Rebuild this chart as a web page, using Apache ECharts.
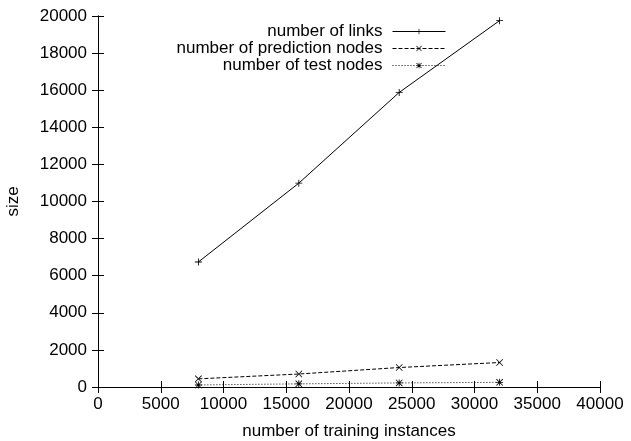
<!DOCTYPE html>
<html>
<head>
<meta charset="utf-8">
<script src="https://cdn.jsdelivr.net/npm/echarts@6/dist/echarts.min.js"></script>
<style>
  html, body { margin: 0; padding: 0; background: #fff; }
  #chart { width: 631px; height: 441px; }
</style>
</head>
<body>
<div id="chart"></div>
<script>
// training instances (x)
const instances = [8000, 16000, 24000, 32000];
const links = [6740, 10990, 15880, 19750];
const predictionNodes = [440, 700, 1050, 1320];
const testNodes = [110, 170, 220, 250];

// gnuplot-ish point markers
const plusPath = "path://M4.4,0h1.2v10h-1.2z M0,4.4h10v1.2h-10z";
const crossPath = "path://M0.8,0L10,9.2L9.2,10L0,0.8z M9.2,0L10,0.8L0.8,10L0,9.2z";
const starPath = plusPath + " " + crossPath.replace("path://", "");

const font = "Liberation Sans, Arial, sans-serif";
const fs = 17;

function pairs(ys) {
  return instances.map((x, i) => [x, ys[i]]);
}

function lineSeries(name, ys, symbol, type) {
  return {
    name: name,
    type: "line",
    data: pairs(ys),
    symbol: symbol,
    symbolSize: 7,
    showSymbol: true,
    itemStyle: { color: "#000" },
    lineStyle: { color: "#000", width: 1, type: type },
    emphasis: { disabled: true },
    animation: false,
  };
}

const plain = (v) => String(v);

const chart = echarts.init(document.getElementById("chart"));
chart.setOption({
  animation: false,
  textStyle: { fontFamily: font },
  grid: { left: 98, right: 31, top: 16, bottom: 54, outerBoundsMode: "none", containLabel: false },
  legend: {
    orient: "vertical",
    right: 185,
    top: 23,
    padding: 0,
    align: "right",
    itemWidth: 53,
    itemHeight: 7,
    itemGap: 0,
    lineStyle: { width: 1 },
    textStyle: { color: "#000", fontSize: fs, fontFamily: font, padding: [0, 5, 0, 0] },
  },
  xAxis: [
    {
      type: "value",
      min: 0,
      max: 40000,
      interval: 5000,
      name: "number of training instances",
      nameLocation: "middle",
      nameGap: 36,
      nameTextStyle: { color: "#000", fontSize: fs, fontFamily: font },
      axisLine: { lineStyle: { color: "#000", width: 1 } },
      axisTick: { inside: true, length: 6, lineStyle: { color: "#000" } },
      axisLabel: { color: "#000", fontSize: fs, margin: 9, fontFamily: font, formatter: plain },
      splitLine: { show: false },
    },
    {
      type: "value",
      position: "top",
      min: 0,
      max: 40000,
      interval: 5000,
      axisLine: { show: true, lineStyle: { color: "#000", width: 1 } },
      axisTick: { inside: true, length: 6, lineStyle: { color: "#000" } },
      axisLabel: { show: false },
      splitLine: { show: false },
    },
  ],
  yAxis: [
    {
      type: "value",
      min: 0,
      max: 20000,
      interval: 2000,
      name: "size",
      nameLocation: "middle",
      nameGap: 76,
      nameTextStyle: { color: "#000", fontSize: fs, fontFamily: font },
      axisLine: { show: true, lineStyle: { color: "#000", width: 1 } },
      axisTick: { show: true, inside: true, length: 6, lineStyle: { color: "#000" } },
      axisLabel: { color: "#000", fontSize: fs, margin: 11, fontFamily: font, formatter: plain },
      splitLine: { show: false },
    },
    {
      type: "value",
      position: "right",
      min: 0,
      max: 20000,
      interval: 2000,
      axisLine: { show: true, lineStyle: { color: "#000", width: 1 } },
      axisTick: { show: true, inside: true, length: 6, lineStyle: { color: "#000" } },
      axisLabel: { show: false },
      splitLine: { show: false },
    },
  ],
  series: [
    lineSeries("number of links", links, plusPath, "solid"),
    lineSeries("number of prediction nodes", predictionNodes, crossPath, [4, 2]),
    lineSeries("number of test nodes", testNodes, starPath, [1, 2]),
  ],
});
</script>
</body>
</html>
